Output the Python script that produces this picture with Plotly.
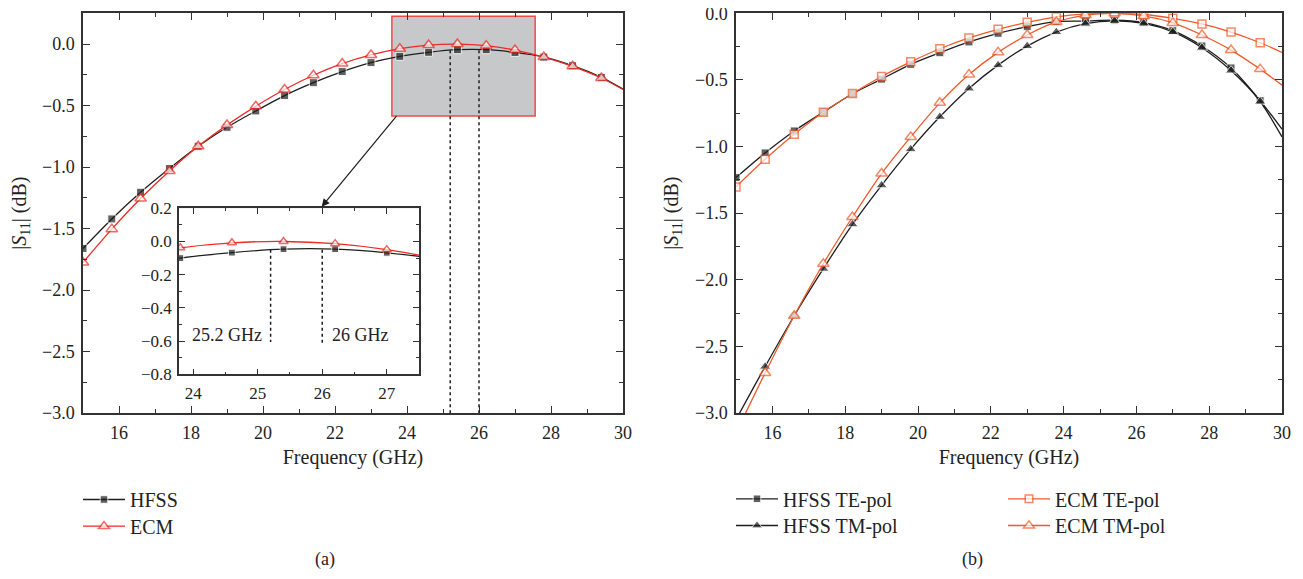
import plotly.graph_objects as go

# ---------------- data (a) ----------------
freq_a = [15.0, 15.8, 16.6, 17.4, 18.2, 19.0, 19.8, 20.6, 21.4, 22.2,
          23.0, 23.8, 24.6, 25.4, 26.2, 27.0, 27.8, 28.6, 29.4, 30.0]
hfss_a = [-1.662, -1.422, -1.205, -1.012, -0.831, -0.677, -0.544, -0.419, -0.314, -0.224,
          -0.151, -0.100, -0.067, -0.046, -0.046, -0.068, -0.106, -0.176, -0.271, -0.366]
ecm_a = [-1.776, -1.505, -1.256, -1.032, -0.831, -0.658, -0.506, -0.370, -0.254, -0.159,
         -0.089, -0.038, -0.008, 0.000, -0.013, -0.049, -0.106, -0.181, -0.276, -0.370]

# ---------------- data (b) ----------------
freq_b = [15.0, 15.8, 16.6, 17.4, 18.2, 19.0, 19.8, 20.6, 21.4, 22.2,
          23.0, 23.8, 24.6, 25.4, 26.2, 27.0, 27.8, 28.6, 29.4, 30.0]
hfss_te = [-1.233, -1.048, -0.883, -0.742, -0.604, -0.494, -0.383, -0.296, -0.215, -0.150,
           -0.100, -0.062, -0.058, -0.052, -0.070, -0.130, -0.245, -0.410, -0.655, -0.870]
hfss_tm = [-3.05, -2.652, -2.270, -1.917, -1.584, -1.291, -1.020, -0.777, -0.564, -0.389,
           -0.246, -0.141, -0.078, -0.057, -0.076, -0.140, -0.258, -0.430, -0.662, -0.928]
ecm_te = [-1.303, -1.095, -0.907, -0.742, -0.602, -0.474, -0.364, -0.266, -0.185, -0.120,
          -0.068, -0.027, -0.005, 0.000, -0.009, -0.038, -0.080, -0.141, -0.221, -0.293]
ecm_tm = [-3.15, -2.700, -2.270, -1.880, -1.529, -1.203, -0.928, -0.672, -0.460, -0.293,
          -0.163, -0.065, -0.013, 0.000, -0.020, -0.072, -0.163, -0.276, -0.419, -0.539]

ticks_a_y = [0.0, -0.5, -1.0, -1.5, -2.0, -2.5, -3.0]
ticks_x = [16, 18, 20, 22, 24, 26, 28, 30]
inset_x_ticks = [24, 25, 26, 27]
inset_y_ticks = [0.2, 0.0, -0.2, -0.4, -0.6, -0.8]
marked_freqs = [25.2, 26.0]

FONT = "Liberation Serif"
BLACK = "#1e1e1e"
RED_A = "#ee2a24"
RED_B = "#f05a2a"
GRAY = "#c7c8ca"
TXT = "#222222"

# page body has an 8px margin: figure is sized so the page fills the 1303x579 window
PAGE_MARGIN = 8
W, H = 1303 - 2 * PAGE_MARGIN, 579 - 2 * PAGE_MARGIN


def px_x(p):
    return (p - PAGE_MARGIN) / W


def px_y(p):
    return 1 - (p - PAGE_MARGIN) / H


n = len(freq_a)
sizes_sq = [8] * (n - 1) + [0]
sizes_tri = [10] * (n - 1) + [0]

fig = go.Figure()

LINE = dict(width=1.3, shape="spline", smoothing=0.8)

# (a) main
fig.add_trace(go.Scatter(x=freq_a, y=hfss_a, mode="lines+markers", name="HFSS",
                         line=dict(color=BLACK, **LINE),
                         marker=dict(symbol="square", size=sizes_sq, color=BLACK),
                         xaxis="x", yaxis="y", legend="legend"))
fig.add_trace(go.Scatter(x=freq_a, y=ecm_a, mode="lines+markers", name="ECM",
                         line=dict(color=RED_A, **LINE),
                         marker=dict(symbol="triangle-up", size=sizes_tri, color="white",
                                     line=dict(color=RED_A, width=1.5)),
                         xaxis="x", yaxis="y", legend="legend4"))
# (a) inset
fig.add_trace(go.Scatter(x=freq_a, y=hfss_a, mode="lines+markers", showlegend=False,
                         line=dict(color=BLACK, **LINE),
                         marker=dict(symbol="square", size=[s * 0.85 for s in sizes_sq], color=BLACK),
                         xaxis="x3", yaxis="y3"))
fig.add_trace(go.Scatter(x=freq_a, y=ecm_a, mode="lines+markers", showlegend=False,
                         line=dict(color=RED_A, **LINE),
                         marker=dict(symbol="triangle-up", size=[s * 0.8 for s in sizes_tri],
                                     color="white", line=dict(color=RED_A, width=1.5)),
                         xaxis="x3", yaxis="y3"))

# (b)
fig.add_trace(go.Scatter(x=freq_b, y=hfss_te, mode="lines+markers", name="HFSS TE-pol",
                         line=dict(color=BLACK, **LINE),
                         marker=dict(symbol="square", size=sizes_sq, color=BLACK),
                         xaxis="x2", yaxis="y2", legend="legend2"))
fig.add_trace(go.Scatter(x=freq_b, y=hfss_tm, mode="lines+markers", name="HFSS TM-pol",
                         line=dict(color=BLACK, **LINE),
                         marker=dict(symbol="triangle-up", size=sizes_tri, color=BLACK),
                         xaxis="x2", yaxis="y2", legend="legend5"))
fig.add_trace(go.Scatter(x=freq_b, y=ecm_te, mode="lines+markers", name="ECM TE-pol",
                         line=dict(color=RED_B, **LINE),
                         marker=dict(symbol="square", size=sizes_sq, color="white",
                                     line=dict(color=RED_B, width=1.5)),
                         xaxis="x2", yaxis="y2", legend="legend3"))
fig.add_trace(go.Scatter(x=freq_b, y=ecm_tm, mode="lines+markers", name="ECM TM-pol",
                         line=dict(color=RED_B, **LINE),
                         marker=dict(symbol="triangle-up", size=sizes_tri, color="white",
                                     line=dict(color=RED_B, width=1.5)),
                         xaxis="x2", yaxis="y2", legend="legend6"))

axis_common = dict(showline=True, linecolor="#333333", linewidth=1.5, mirror="ticks",
                   ticks="inside", ticklen=7, tickwidth=1.3, tickcolor="#333333",
                   showgrid=False, zeroline=False, automargin=False,
                   ticklabeloverflow="allow",
                   tickfont=dict(family=FONT, size=18, color=TXT))
minor_x = dict(ticks="inside", ticklen=4, dtick=1, tickcolor="#333333", showgrid=False)
minor_y = dict(ticks="inside", ticklen=4, dtick=0.25, tickcolor="#333333", showgrid=False)
inset_axis = {**axis_common, "tickfont": dict(family=FONT, size=17, color=TXT), "ticklen": 6}

title_font = dict(family=FONT, size=20, color=TXT)
ytitle = "|<i>S</i><sub>11</sub>| (dB)"

legend_common = dict(xanchor="left", yanchor="top", font=dict(family=FONT, size=20, color=TXT),
                     bgcolor="rgba(0,0,0,0)", tracegroupgap=0, itemwidth=42)

fig.update_layout(
    template="none",
    width=W, height=H,
    margin=dict(l=0, r=0, t=0, b=0, autoexpand=False),
    paper_bgcolor="white", plot_bgcolor="white",
    font=dict(family=FONT, color=TXT),
    xaxis=dict(domain=[px_x(83), px_x(623)], range=[15, 30], tickvals=ticks_x,
               minor=minor_x, anchor="y",
               title=dict(text="Frequency (GHz)", font=title_font, standoff=8),
               ticklabelstandoff=3, **axis_common),
    yaxis=dict(domain=[px_y(413), px_y(13.3)], range=[-3, 0.25], tickvals=ticks_a_y,
               tickformat=".1f", minor=minor_y, anchor="x",
               title=dict(text=ytitle, font=title_font, standoff=11),
               ticklabelstandoff=3, **axis_common),
    xaxis2=dict(domain=[px_x(736), px_x(1282)], range=[15, 30], tickvals=ticks_x,
                minor=minor_x, anchor="y2",
                title=dict(text="Frequency (GHz)", font=title_font, standoff=8),
                ticklabelstandoff=3, **axis_common),
    yaxis2=dict(domain=[px_y(413), px_y(13.3)], range=[-3, 0], tickvals=ticks_a_y,
                tickformat=".1f", minor=minor_y, anchor="x2",
                title=dict(text=ytitle, font=title_font, standoff=11),
                ticklabelstandoff=3, **axis_common),
    xaxis3=dict(domain=[px_x(179), px_x(419)], range=[23.78, 27.5], tickvals=inset_x_ticks,
                minor=dict(ticks="inside", ticklen=3, dtick=0.5, tickcolor="#333333"),
                anchor="y3", ticklabelstandoff=3, **inset_axis),
    yaxis3=dict(domain=[px_y(374.3), px_y(208.3)], range=[-0.8, 0.2], tickvals=inset_y_ticks,
                tickformat=".1f",
                minor=dict(ticks="inside", ticklen=3, dtick=0.1, tickcolor="#333333"),
                anchor="x3", ticklabelstandoff=2, **inset_axis),
    legend=dict(x=px_x(78), y=px_y(480), **legend_common),
    legend4=dict(x=px_x(78), y=px_y(506.7), **legend_common),
    legend2=dict(x=px_x(731), y=px_y(479.3), **legend_common),
    legend5=dict(x=px_x(731), y=px_y(506), **legend_common),
    legend3=dict(x=px_x(1003), y=px_y(479.3), **legend_common),
    legend6=dict(x=px_x(1003), y=px_y(506), **legend_common),
)

# gray zoom box in main (a)
fig.add_shape(type="rect", xref="x", yref="y", x0=23.58, x1=27.56, y0=-0.585, y1=0.227,
              fillcolor=GRAY, line=dict(color="#f04a45", width=1.5), layer="below")
# inset background
fig.add_shape(type="rect", xref="x3 domain", yref="y3 domain", x0=0, x1=1, y0=0, y1=1,
              fillcolor=GRAY, line=dict(width=0), layer="below")

# dotted markers
for f in marked_freqs:
    fig.add_shape(type="line", xref="x", yref="y", x0=f, x1=f, y0=-0.05, y1=-3,
                  line=dict(color=BLACK, width=1.5, dash="dot"))
fig.add_shape(type="line", xref="x3", yref="y3", x0=marked_freqs[0], x1=marked_freqs[0],
              y0=-0.05, y1=-0.606, line=dict(color=BLACK, width=1.5, dash="dot"))
fig.add_shape(type="line", xref="x3", yref="y3", x0=marked_freqs[1], x1=marked_freqs[1],
              y0=-0.05, y1=-0.618, line=dict(color=BLACK, width=1.5, dash="dot"))

fig.add_annotation(x=25.1, y=-0.565, xref="x3", yref="y3", text="25.2 GHz",
                   showarrow=False, xanchor="right", yanchor="middle",
                   font=dict(family=FONT, size=18, color=TXT))
fig.add_annotation(x=26.12, y=-0.565, xref="x3", yref="y3", text="26 GHz",
                   showarrow=False, xanchor="left", yanchor="middle",
                   font=dict(family=FONT, size=18, color=TXT))

# arrow
fig.add_annotation(x=px_x(321.7), y=px_y(206.7), xref="paper", yref="paper",
                   ax=76, ay=-92, axref="pixel", ayref="pixel", text="",
                   showarrow=True, arrowhead=2, arrowsize=1.3, arrowwidth=1.2,
                   arrowcolor=BLACK)

fig.add_annotation(x=px_x(325), y=px_y(559), xref="paper", yref="paper", text="(a)",
                   xanchor="center", yanchor="middle",
                   showarrow=False, font=dict(family=FONT, size=18, color=TXT))
fig.add_annotation(x=px_x(972), y=px_y(559), xref="paper", yref="paper", text="(b)",
                   xanchor="center", yanchor="middle",
                   showarrow=False, font=dict(family=FONT, size=18, color=TXT))

fig.write_html("out.html")
